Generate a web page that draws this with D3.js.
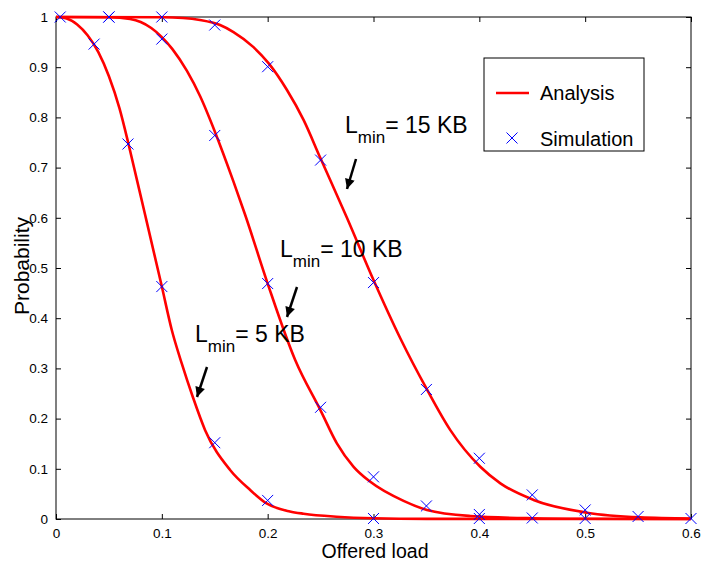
<!DOCTYPE html>
<html><head><meta charset="utf-8">
<script src="https://cdn.jsdelivr.net/npm/d3@7/dist/d3.min.js"></script>
<style>body{margin:0;background:#fff}svg{display:block}text{font-family:"Liberation Sans",Arial,sans-serif}</style>
</head><body><svg id="c" width="704" height="563"></svg>
<script>
const xTicks = [0,0.1,0.2,0.3,0.4,0.5,0.6];
const yTicks = [0,0.1,0.2,0.3,0.4,0.5,0.6,0.7,0.8,0.9,1];

// Analysis curves
const ana5x  = [0,0.01,0.02,0.03,0.04,0.05,0.06,0.0684,0.0763,0.0842,0.1,0.1094,0.1188,0.1292,0.1409,0.1645,0.1835,0.199,0.221,0.2339,0.265,0.3,0.35,0.6];
const ana5y  = [1,0.997,0.985,0.963,0.930,0.882,0.818,0.748,0.677,0.606,0.463,0.3765,0.310,0.2436,0.177,0.0976,0.0578,0.031,0.015,0.0105,0.0046,0.0015,0.0003,0];
const ana10x = [0,0.05,0.07,0.08,0.09,0.1,0.11,0.1236,0.1362,0.1504,0.1677,0.1787,0.2,0.226,0.2503,0.2654,0.2812,0.297,0.3284,0.3505,0.3915,0.45,0.5,0.6];
const ana10y = [1,0.9995,0.996,0.99,0.978,0.96,0.936,0.893,0.842,0.77,0.672,0.606,0.469,0.3167,0.215,0.1508,0.104,0.074,0.036,0.018,0.006,0.0015,0.0004,0];
const ana15x = [0,0.1,0.12,0.136,0.155,0.1677,0.1866,0.2008,0.2181,0.2339,0.2496,0.2749,0.3,0.3253,0.3505,0.3726,0.4009,0.4199,0.4513,0.5017,0.552,0.6];
const ana15y = [1,0.9995,0.998,0.994,0.984,0.970,0.940,0.908,0.855,0.795,0.720,0.600,0.476,0.36,0.258,0.177,0.104,0.071,0.038,0.0126,0.0033,0.001];

// Simulation points
const sim5x  = [0.004,0.036,0.068,0.1,0.15,0.2,0.3,0.4];
const sim5y  = [1,0.946,0.747,0.463,0.152,0.037,0.001,0.001];
const sim10x = [0.05,0.1,0.15,0.2,0.25,0.3,0.35,0.4,0.45,0.5];
const sim10y = [1,0.956,0.764,0.469,0.2225,0.084,0.026,0.009,0.002,0.001];
const sim15x = [0.05,0.1,0.15,0.2,0.25,0.3,0.35,0.4,0.45,0.5,0.55,0.6];
const sim15y = [1,1,0.984,0.901,0.715,0.471,0.258,0.121,0.048,0.018,0.005,0.001];

const labels = ["5 KB","10 KB","15 KB"];

const svg = d3.select("#c");
const L=56,R=691,T=17,B=519;
const x = d3.scaleLinear().domain([0,0.6]).range([L,R]);
const y = d3.scaleLinear().domain([0,1]).range([B,T]);

svg.append("rect").attr("x",L).attr("y",T).attr("width",R-L).attr("height",B-T)
 .attr("fill","none").attr("stroke","#000").attr("stroke-width",1);

const fmt = d=> d===0?"0":(d===1?"1":d3.format(".1f")(d));
const gx = svg.append("g").attr("transform",`translate(0,${B})`).call(d3.axisBottom(x).tickValues(xTicks).tickSize(-5).tickPadding(9).tickFormat(fmt));
const gxt = svg.append("g").attr("transform",`translate(0,${T})`).call(d3.axisTop(x).tickValues(xTicks).tickSize(-5).tickFormat(""));
const gy = svg.append("g").attr("transform",`translate(${L},0)`).call(d3.axisLeft(y).tickValues(yTicks).tickSize(-5).tickPadding(8).tickFormat(fmt));
const gyr = svg.append("g").attr("transform",`translate(${R},0)`).call(d3.axisRight(y).tickValues(yTicks).tickSize(-5).tickFormat(""));
[gx,gxt,gy,gyr].forEach(a=>{a.select(".domain").remove();a.selectAll("line").attr("stroke","#000");
  a.selectAll("text").attr("font-size",13.5).attr("fill","#000").attr("font-family","Liberation Sans, Arial, sans-serif");});

// curves
const line = d3.line().x(d=>x(d[0])).y(d=>y(d[1])).curve(d3.curveMonotoneX);
[[ana5x,ana5y],[ana10x,ana10y],[ana15x,ana15y]].forEach(([xs,ys])=>{
  svg.append("path").datum(xs.map((v,i)=>[v,ys[i]])).attr("d",line)
   .attr("fill","none").attr("stroke","#ff0000").attr("stroke-width",2.6).attr("stroke-linejoin","round");
});
const cross = (cx,cy,s)=>{
  svg.append("path").attr("d",`M${cx-s},${cy-s}L${cx+s},${cy+s}M${cx-s},${cy+s}L${cx+s},${cy-s}`)
   .attr("stroke","#0000ff").attr("stroke-width",1).attr("fill","none");
};
[[sim5x,sim5y],[sim10x,sim10y],[sim15x,sim15y]].forEach(([xs,ys])=>{
  xs.forEach((v,i)=>cross(x(v),y(ys[i]),5.5));
});

// annotations
const ann = [
  {tx:195,ty:342,ax1:207,ay1:367,ax2:197,ay2:397,lab:labels[0]},
  {tx:280,ty:257,ax1:297,ay1:287,ax2:287,ay2:317,lab:labels[1]},
  {tx:345,ty:133,ax1:356,ay1:159,ax2:347,ay2:189,lab:labels[2]}
];
svg.append("defs").append("marker").attr("id","ah").attr("viewBox","0 0 10 10")
  .attr("refX",10).attr("refY",5).attr("markerWidth",13).attr("markerHeight",10)
  .attr("markerUnits","userSpaceOnUse").attr("orient","auto")
  .append("path").attr("d","M0,0L10,5L0,10Z").attr("fill","#000");
ann.forEach(a=>{
  const t = svg.append("text").attr("x",a.tx).attr("y",a.ty).attr("font-size",23).attr("fill","#000");
  t.append("tspan").text("L");
  t.append("tspan").text("min").attr("font-size",17).attr("dy",10);
  t.append("tspan").text("= "+a.lab).attr("dy",-10);
  svg.append("line").attr("x1",a.ax1).attr("y1",a.ay1).attr("x2",a.ax2).attr("y2",a.ay2)
    .attr("stroke","#000").attr("stroke-width",2.5).attr("marker-end","url(#ah)");
});

// legend
svg.append("rect").attr("x",484).attr("y",58).attr("width",160).attr("height",93)
  .attr("fill","#fff").attr("stroke","#000").attr("stroke-width",1);
svg.append("line").attr("x1",496).attr("x2",529).attr("y1",93).attr("y2",93).attr("stroke","#ff0000").attr("stroke-width",2.6);
svg.append("text").attr("x",540).attr("y",100).attr("font-size",20).text("Analysis");
cross(512,138,5.5);
svg.append("text").attr("x",540).attr("y",146).attr("font-size",20).text("Simulation");

// axis labels
svg.append("text").attr("x",375).attr("y",558).attr("text-anchor","middle").attr("font-size",19.5).text("Offered load");
svg.append("text").attr("transform","translate(29,266) rotate(-90)").attr("text-anchor","middle").attr("font-size",21).text("Probability");
</script></body></html>
